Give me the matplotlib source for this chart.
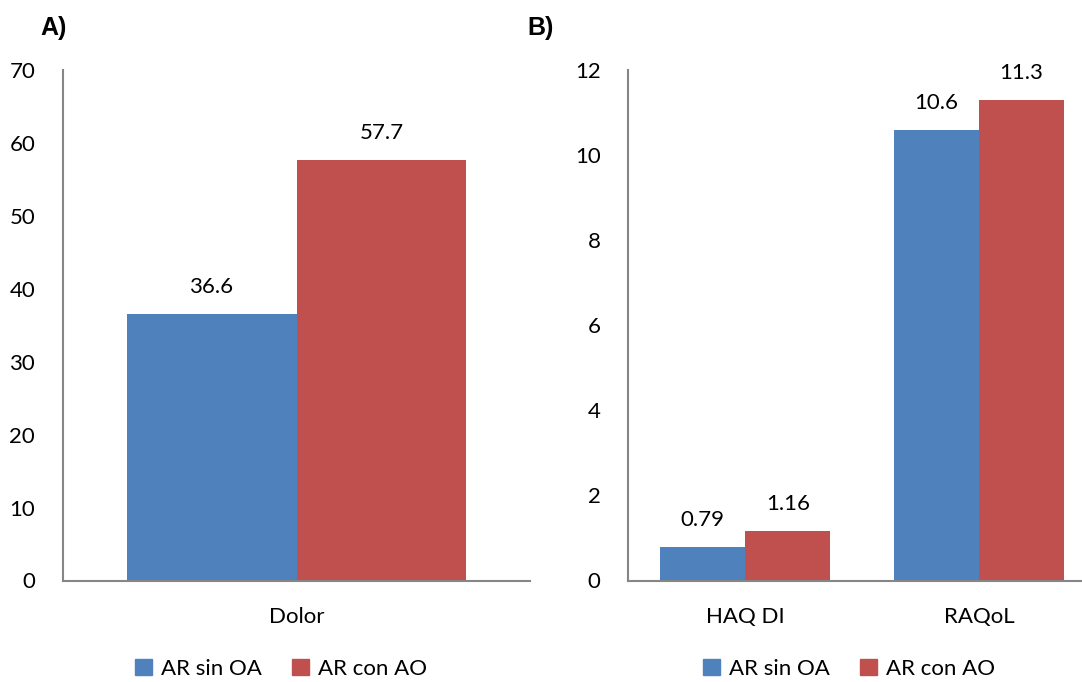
import matplotlib.pyplot as plt
from matplotlib.patches import Patch

# datos
series = ['AR sin OA', 'AR con AO']
colores = ['#4F81BD', '#C0504D']

cat_a = ['Dolor']
sin_oa_a = [36.6]
con_ao_a = [57.7]

cat_b = ['HAQ DI', 'RAQoL']
sin_oa_b = [0.79, 10.6]
con_ao_b = [1.16, 11.3]
etiquetas_b = [['0.79', '10.6'], ['1.16', '11.3']]
etiquetas_a = [['36.6'], ['57.7']]

plt.rcParams['font.family'] = ['Lato', 'DejaVu Sans']
fig = plt.figure(figsize=(10.82, 6.82), dpi=100)

W, H = 1082, 682
axA = fig.add_axes([63 / W, (H - 580.5) / H, 467 / W, 510.5 / H])
axB = fig.add_axes([628.3 / W, (H - 580.5) / H, 467.7 / W, 510.5 / H])

ancho = 0.364
gris = '#868686'


def dibujar(ax, cats, vals, etiquetas, ymax, paso):
    xs = list(range(len(cats)))
    for i, (v, lab, c) in enumerate(zip(vals, etiquetas, colores)):
        off = (i - 0.5) * ancho
        pos = [x + off for x in xs]
        ax.bar(pos, v, width=ancho, color=c, edgecolor='none')
        for p, val, t in zip(pos, v, lab):
            ax.annotate(t, (p, val), xytext=(0, 12), textcoords='offset points',
                        ha='center', va='bottom', fontsize=16)
    ax.set_xlim(-0.5, len(cats) - 0.5)
    ax.set_ylim(0, ymax)
    ax.set_yticks(range(0, ymax + 1, paso))
    ax.set_xticks(xs)
    ax.set_xticklabels(cats)
    for s in ['top', 'right']:
        ax.spines[s].set_visible(False)
    for s in ['left', 'bottom']:
        ax.spines[s].set_color(gris)
        ax.spines[s].set_linewidth(1.5)
    ax.tick_params(axis='y', length=0, pad=20, labelsize=16)
    ax.tick_params(axis='x', length=0, pad=19, labelsize=16)


dibujar(axA, cat_a, [sin_oa_a, con_ao_a], etiquetas_a, 70, 10)
dibujar(axB, cat_b, [sin_oa_b, con_ao_b], etiquetas_b, 12, 2)

fig.text(40 / W, 1 - 28 / H, 'A)', fontsize=18, fontweight='bold',
         family='Liberation Sans', va='center', ha='left')
fig.text(527 / W, 1 - 28 / H, 'B)', fontsize=18, fontweight='bold',
         family='Liberation Sans', va='center', ha='left')

handles = [Patch(color=c, label=s) for c, s in zip(colores, series)]
for xc in [281 / W, 849 / W]:
    fig.legend(handles=handles, loc='center', bbox_to_anchor=(xc, 1 - 669 / H),
               ncol=2, frameon=False, fontsize=16, handlelength=0.75,
               handleheight=0.75, handletextpad=0.4, columnspacing=1.4)

plt.savefig('out.png', dpi=100)
